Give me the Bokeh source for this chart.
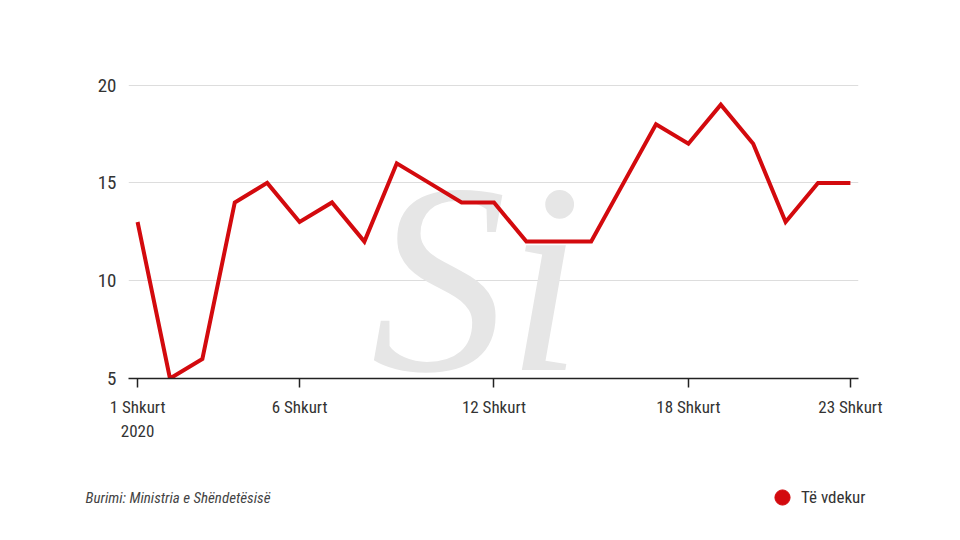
from bokeh.plotting import figure
from bokeh.layouts import column
from bokeh.models import Range1d, FixedTicker, Label, Legend, LegendItem, ColumnDataSource
from bokeh.embed import file_html
from bokeh.resources import INLINE

days = list(range(1, 24))
deaths = [13, 5, 6, 14, 15, 13, 14, 12, 16, 15, 14, 14, 12, 12, 12, 15, 18, 17, 19, 17, 13, 15, 15]
x_ticks = [1, 6, 12, 18, 23]
x_tick_labels = ["1 Shkurt\n2020", "6 Shkurt", "12 Shkurt", "18 Shkurt", "23 Shkurt"]
y_ticks = [5, 10, 15, 20]
series_name = "Të vdekur"
source_text = "Burimi: Ministria e Shëndetësisë"

FONT = "Liberation Sans Narrow, Roboto Condensed, Arial Narrow, sans-serif"
RED = "#d30a0e"

p = figure(width=960, height=460, output_backend="svg", toolbar_location=None,
           x_range=Range1d(0.72, 23.25), y_range=Range1d(5, 21),
           min_border_left=128, min_border_right=102, min_border_top=65, min_border_bottom=82)
p.outline_line_color = None
p.background_fill_color = "white"
p.border_fill_color = "white"

# watermark
wm = Label(x=348, y=100, x_units="screen", y_units="screen", text="Si",
           text_font="Liberation Serif", text_font_style="italic", text_font_size="272px",
           text_color="#e6e6e6", text_align="center", text_baseline="middle", level="underlay")
p.add_layout(wm)

src = ColumnDataSource(dict(day=days, v=deaths))
p.line("day", "v", source=src, line_color=RED, line_width=4, line_join="miter")

# axes
p.xaxis.ticker = FixedTicker(ticks=x_ticks)
p.xaxis.major_label_overrides = {t: l for t, l in zip(x_ticks, x_tick_labels)}
p.xaxis.minor_tick_line_color = None
p.xaxis.major_tick_in = 0
p.xaxis.major_tick_out = 9
p.xaxis.major_tick_line_color = "#222222"
p.xaxis.major_tick_line_width = 1.5
p.xaxis.axis_line_color = "#222222"
p.xaxis.axis_line_width = 1.5
p.xaxis.major_label_text_font = FONT
p.xaxis.major_label_text_font_size = "17px"
p.xaxis.major_label_text_color = "#333333"
p.xaxis.major_label_standoff = 9

p.yaxis.ticker = FixedTicker(ticks=y_ticks)
p.yaxis.axis_line_color = None
p.yaxis.major_tick_line_color = None
p.yaxis.minor_tick_line_color = None
p.yaxis.major_label_text_font = FONT
p.yaxis.major_label_text_font_size = "19px"
p.yaxis.major_label_text_color = "#333333"
p.yaxis.major_label_standoff = 6

p.xgrid.grid_line_color = None
p.ygrid.grid_line_color = "#dddddd"
p.ygrid.grid_line_width = 1

# footer figure: source + legend
f = figure(width=960, height=80, output_backend="svg", toolbar_location=None,
           x_axis_type=None, y_axis_type=None, x_range=Range1d(-100, -99), y_range=Range1d(-100, -99),
           min_border=0, min_border_left=0, min_border_right=0, min_border_top=0, min_border_bottom=0)
f.outline_line_color = None
f.grid.grid_line_color = None
f.background_fill_color = "white"
f.border_fill_color = "white"
for fig in (p, f):
    try:
        fig.frame_align = False
    except Exception:
        pass

f.add_layout(Label(x=85, y=43, x_units="screen", y_units="screen", text=source_text,
                   text_font=FONT, text_font_style="italic", text_font_size="15px",
                   text_color="#444444", text_baseline="middle"))

# legend proxy: the same series, lying outside this footer's ranges (so invisible here)
proxy = f.scatter("day", "v", source=src, size=15, marker="circle", fill_color=RED, line_color=RED)
leg = Legend(items=[LegendItem(label=series_name, renderers=[proxy])],
             location=(763, 24), background_fill_alpha=0, border_line_color=None,
             label_text_font=FONT, label_text_font_size="17px", label_text_color="#333333",
             glyph_width=38, glyph_height=38, label_standoff=-7, padding=4, margin=0)
f.add_layout(leg, "center")

layout = column(p, f, spacing=0)
open("out.html", "w").write(file_html(layout, INLINE))
